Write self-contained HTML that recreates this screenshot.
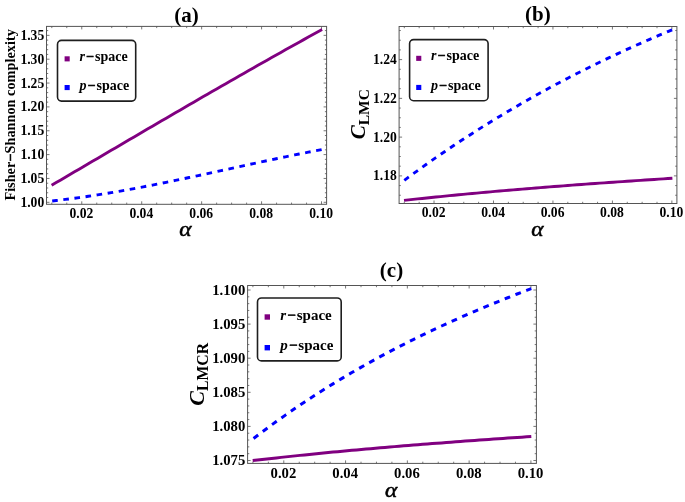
<!DOCTYPE html>
<html><head><meta charset="utf-8"><style>
html,body{margin:0;padding:0;background:#fff;width:685px;height:502px;overflow:hidden}
svg{display:block;filter:blur(0.4px)}
text{font-family:"Liberation Serif",serif}
</style></head><body>
<svg width="685" height="502" viewBox="0 0 685 502">
<rect width="685" height="502" fill="#fff"/>
<rect x="46.5" y="26.4" width="280.10" height="177.90" fill="none" stroke="#555" stroke-width="1"/>
<path d="M81.77,204.3v-3.0M81.77,26.4v3.0M141.71,204.3v-3.0M141.71,26.4v3.0M201.65,204.3v-3.0M201.65,26.4v3.0M261.59,204.3v-3.0M261.59,26.4v3.0M321.53,204.3v-3.0M321.53,26.4v3.0M51.80,204.3v-1.7M51.80,26.4v1.7M66.78,204.3v-1.7M66.78,26.4v1.7M96.75,204.3v-1.7M96.75,26.4v1.7M111.74,204.3v-1.7M111.74,26.4v1.7M126.72,204.3v-1.7M126.72,26.4v1.7M156.69,204.3v-1.7M156.69,26.4v1.7M171.68,204.3v-1.7M171.68,26.4v1.7M186.67,204.3v-1.7M186.67,26.4v1.7M216.63,204.3v-1.7M216.63,26.4v1.7M231.62,204.3v-1.7M231.62,26.4v1.7M246.61,204.3v-1.7M246.61,26.4v1.7M276.57,204.3v-1.7M276.57,26.4v1.7M291.56,204.3v-1.7M291.56,26.4v1.7M306.55,204.3v-1.7M306.55,26.4v1.7M46.5,202.30h3.0M326.6,202.30h-3.0M46.5,178.45h3.0M326.6,178.45h-3.0M46.5,154.60h3.0M326.6,154.60h-3.0M46.5,130.75h3.0M326.6,130.75h-3.0M46.5,106.90h3.0M326.6,106.90h-3.0M46.5,83.05h3.0M326.6,83.05h-3.0M46.5,59.20h3.0M326.6,59.20h-3.0M46.5,35.35h3.0M326.6,35.35h-3.0M46.5,197.53h1.7M326.6,197.53h-1.7M46.5,192.76h1.7M326.6,192.76h-1.7M46.5,187.99h1.7M326.6,187.99h-1.7M46.5,183.22h1.7M326.6,183.22h-1.7M46.5,173.68h1.7M326.6,173.68h-1.7M46.5,168.91h1.7M326.6,168.91h-1.7M46.5,164.14h1.7M326.6,164.14h-1.7M46.5,159.37h1.7M326.6,159.37h-1.7M46.5,149.83h1.7M326.6,149.83h-1.7M46.5,145.06h1.7M326.6,145.06h-1.7M46.5,140.29h1.7M326.6,140.29h-1.7M46.5,135.52h1.7M326.6,135.52h-1.7M46.5,125.98h1.7M326.6,125.98h-1.7M46.5,121.21h1.7M326.6,121.21h-1.7M46.5,116.44h1.7M326.6,116.44h-1.7M46.5,111.67h1.7M326.6,111.67h-1.7M46.5,102.13h1.7M326.6,102.13h-1.7M46.5,97.36h1.7M326.6,97.36h-1.7M46.5,92.59h1.7M326.6,92.59h-1.7M46.5,87.82h1.7M326.6,87.82h-1.7M46.5,78.28h1.7M326.6,78.28h-1.7M46.5,73.51h1.7M326.6,73.51h-1.7M46.5,68.74h1.7M326.6,68.74h-1.7M46.5,63.97h1.7M326.6,63.97h-1.7M46.5,54.43h1.7M326.6,54.43h-1.7M46.5,49.66h1.7M326.6,49.66h-1.7M46.5,44.89h1.7M326.6,44.89h-1.7M46.5,40.12h1.7M326.6,40.12h-1.7M46.5,30.58h1.7M326.6,30.58h-1.7" stroke="#555" stroke-width="0.8" fill="none"/>
<rect x="399.1" y="26.5" width="277.80" height="177.00" fill="none" stroke="#555" stroke-width="1"/>
<path d="M434.03,203.5v-3.0M434.03,26.5v3.0M493.49,203.5v-3.0M493.49,26.5v3.0M552.95,203.5v-3.0M552.95,26.5v3.0M612.41,203.5v-3.0M612.41,26.5v3.0M671.87,203.5v-3.0M671.87,26.5v3.0M404.30,203.5v-1.7M404.30,26.5v1.7M419.17,203.5v-1.7M419.17,26.5v1.7M448.90,203.5v-1.7M448.90,26.5v1.7M463.76,203.5v-1.7M463.76,26.5v1.7M478.62,203.5v-1.7M478.62,26.5v1.7M508.36,203.5v-1.7M508.36,26.5v1.7M523.22,203.5v-1.7M523.22,26.5v1.7M538.09,203.5v-1.7M538.09,26.5v1.7M567.82,203.5v-1.7M567.82,26.5v1.7M582.68,203.5v-1.7M582.68,26.5v1.7M597.55,203.5v-1.7M597.55,26.5v1.7M627.27,203.5v-1.7M627.27,26.5v1.7M642.14,203.5v-1.7M642.14,26.5v1.7M657.00,203.5v-1.7M657.00,26.5v1.7M399.1,175.88h3.0M676.9,175.88h-3.0M399.1,137.12h3.0M676.9,137.12h-3.0M399.1,98.36h3.0M676.9,98.36h-3.0M399.1,59.60h3.0M676.9,59.60h-3.0M399.1,195.26h1.7M676.9,195.26h-1.7M399.1,185.57h1.7M676.9,185.57h-1.7M399.1,166.19h1.7M676.9,166.19h-1.7M399.1,156.50h1.7M676.9,156.50h-1.7M399.1,146.81h1.7M676.9,146.81h-1.7M399.1,127.43h1.7M676.9,127.43h-1.7M399.1,117.74h1.7M676.9,117.74h-1.7M399.1,108.05h1.7M676.9,108.05h-1.7M399.1,88.67h1.7M676.9,88.67h-1.7M399.1,78.98h1.7M676.9,78.98h-1.7M399.1,69.29h1.7M676.9,69.29h-1.7M399.1,49.91h1.7M676.9,49.91h-1.7M399.1,40.22h1.7M676.9,40.22h-1.7M399.1,30.53h1.7M676.9,30.53h-1.7" stroke="#555" stroke-width="0.8" fill="none"/>
<rect x="247.6" y="285.5" width="288.80" height="177.90" fill="none" stroke="#555" stroke-width="1"/>
<path d="M283.79,463.4v-3.0M283.79,285.5v3.0M345.57,463.4v-3.0M345.57,285.5v3.0M407.35,463.4v-3.0M407.35,285.5v3.0M469.13,463.4v-3.0M469.13,285.5v3.0M530.91,463.4v-3.0M530.91,285.5v3.0M252.90,463.4v-1.7M252.90,285.5v1.7M268.35,463.4v-1.7M268.35,285.5v1.7M299.24,463.4v-1.7M299.24,285.5v1.7M314.68,463.4v-1.7M314.68,285.5v1.7M330.12,463.4v-1.7M330.12,285.5v1.7M361.01,463.4v-1.7M361.01,285.5v1.7M376.46,463.4v-1.7M376.46,285.5v1.7M391.90,463.4v-1.7M391.90,285.5v1.7M422.80,463.4v-1.7M422.80,285.5v1.7M438.24,463.4v-1.7M438.24,285.5v1.7M453.69,463.4v-1.7M453.69,285.5v1.7M484.57,463.4v-1.7M484.57,285.5v1.7M500.02,463.4v-1.7M500.02,285.5v1.7M515.47,463.4v-1.7M515.47,285.5v1.7M247.6,460.50h3.0M536.4,460.50h-3.0M247.6,426.40h3.0M536.4,426.40h-3.0M247.6,392.30h3.0M536.4,392.30h-3.0M247.6,358.20h3.0M536.4,358.20h-3.0M247.6,324.10h3.0M536.4,324.10h-3.0M247.6,290.00h3.0M536.4,290.00h-3.0M247.6,453.68h1.7M536.4,453.68h-1.7M247.6,446.86h1.7M536.4,446.86h-1.7M247.6,440.04h1.7M536.4,440.04h-1.7M247.6,433.22h1.7M536.4,433.22h-1.7M247.6,419.58h1.7M536.4,419.58h-1.7M247.6,412.76h1.7M536.4,412.76h-1.7M247.6,405.94h1.7M536.4,405.94h-1.7M247.6,399.12h1.7M536.4,399.12h-1.7M247.6,385.48h1.7M536.4,385.48h-1.7M247.6,378.66h1.7M536.4,378.66h-1.7M247.6,371.84h1.7M536.4,371.84h-1.7M247.6,365.02h1.7M536.4,365.02h-1.7M247.6,351.38h1.7M536.4,351.38h-1.7M247.6,344.56h1.7M536.4,344.56h-1.7M247.6,337.74h1.7M536.4,337.74h-1.7M247.6,330.92h1.7M536.4,330.92h-1.7M247.6,317.28h1.7M536.4,317.28h-1.7M247.6,310.46h1.7M536.4,310.46h-1.7M247.6,303.64h1.7M536.4,303.64h-1.7M247.6,296.82h1.7M536.4,296.82h-1.7" stroke="#555" stroke-width="0.8" fill="none"/>
<path d="M51.60,185.25 L56.18,182.57 L60.77,179.89 L65.35,177.21 L69.94,174.52 L74.52,171.84 L79.11,169.15 L83.69,166.47 L88.28,163.78 L92.86,161.09 L97.45,158.41 L102.03,155.72 L106.62,153.03 L111.20,150.34 L115.79,147.66 L120.37,144.97 L124.96,142.28 L129.54,139.60 L134.13,136.91 L138.71,134.23 L143.29,131.55 L147.88,128.87 L152.46,126.19 L157.05,123.51 L161.63,120.84 L166.22,118.16 L170.80,115.49 L175.39,112.82 L179.97,110.15 L184.56,107.49 L189.14,104.83 L193.73,102.17 L198.31,99.51 L202.90,96.86 L207.48,94.21 L212.07,91.57 L216.65,88.93 L221.24,86.29 L225.82,83.65 L230.41,81.02 L234.99,78.40 L239.57,75.78 L244.16,73.16 L248.74,70.55 L253.33,67.94 L257.91,65.34 L262.50,62.74 L267.08,60.15 L271.67,57.56 L276.25,54.98 L280.84,52.40 L285.42,49.84 L290.01,47.27 L294.59,44.72 L299.18,42.17 L303.76,39.62 L308.35,37.08 L312.93,34.55 L317.52,32.03 L322.10,29.51" stroke="#800080" stroke-width="2.9" fill="none" stroke-linecap="butt" stroke-linejoin="round"/>
<path d="M51.60,201.01 L56.18,200.51 L60.77,199.98 L65.35,199.42 L69.94,198.84 L74.52,198.24 L79.11,197.62 L83.69,196.97 L88.28,196.30 L92.86,195.61 L97.45,194.90 L102.03,194.17 L106.62,193.42 L111.20,192.66 L115.79,191.88 L120.37,191.08 L124.96,190.26 L129.54,189.43 L134.13,188.58 L138.71,187.72 L143.29,186.85 L147.88,185.97 L152.46,185.07 L157.05,184.16 L161.63,183.24 L166.22,182.31 L170.80,181.37 L175.39,180.42 L179.97,179.47 L184.56,178.50 L189.14,177.54 L193.73,176.56 L198.31,175.58 L202.90,174.59 L207.48,173.60 L212.07,172.61 L216.65,171.62 L221.24,170.62 L225.82,169.62 L230.41,168.62 L234.99,167.62 L239.57,166.62 L244.16,165.63 L248.74,164.63 L253.33,163.64 L257.91,162.65 L262.50,161.66 L267.08,160.68 L271.67,159.71 L276.25,158.74 L280.84,157.78 L285.42,156.83 L290.01,155.88 L294.59,154.94 L299.18,154.01 L303.76,153.10 L308.35,152.19 L312.93,151.29 L317.52,150.41 L322.10,149.54" stroke="#0000ff" stroke-width="2.9" fill="none" stroke-dasharray="5.6 5.6" stroke-dashoffset="-0.6" stroke-linecap="butt"/>
<path d="M404.00,200.41 L408.55,199.91 L413.10,199.42 L417.65,198.93 L422.20,198.45 L426.75,197.97 L431.29,197.50 L435.84,197.04 L440.39,196.58 L444.94,196.12 L449.49,195.67 L454.04,195.23 L458.59,194.79 L463.14,194.35 L467.69,193.92 L472.24,193.49 L476.79,193.07 L481.34,192.66 L485.88,192.24 L490.43,191.84 L494.98,191.43 L499.53,191.03 L504.08,190.64 L508.63,190.25 L513.18,189.86 L517.73,189.48 L522.28,189.10 L526.83,188.72 L531.38,188.35 L535.93,187.98 L540.47,187.62 L545.02,187.26 L549.57,186.90 L554.12,186.54 L558.67,186.19 L563.22,185.84 L567.77,185.50 L572.32,185.16 L576.87,184.82 L581.42,184.48 L585.97,184.15 L590.52,183.82 L595.06,183.49 L599.61,183.17 L604.16,182.85 L608.71,182.52 L613.26,182.21 L617.81,181.89 L622.36,181.58 L626.91,181.27 L631.46,180.96 L636.01,180.65 L640.56,180.35 L645.11,180.04 L649.65,179.74 L654.20,179.44 L658.75,179.14 L663.30,178.85 L667.85,178.55 L672.40,178.26" stroke="#800080" stroke-width="2.9" fill="none" stroke-linecap="butt" stroke-linejoin="round"/>
<path d="M404.00,180.54 L408.55,177.18 L413.10,173.85 L417.65,170.55 L422.20,167.28 L426.75,164.05 L431.29,160.85 L435.84,157.68 L440.39,154.54 L444.94,151.43 L449.49,148.35 L454.04,145.30 L458.59,142.28 L463.14,139.29 L467.69,136.34 L472.24,133.41 L476.79,130.50 L481.34,127.63 L485.88,124.79 L490.43,121.97 L494.98,119.19 L499.53,116.43 L504.08,113.70 L508.63,110.99 L513.18,108.31 L517.73,105.66 L522.28,103.04 L526.83,100.44 L531.38,97.87 L535.93,95.32 L540.47,92.80 L545.02,90.31 L549.57,87.84 L554.12,85.39 L558.67,82.97 L563.22,80.57 L567.77,78.20 L572.32,75.85 L576.87,73.53 L581.42,71.22 L585.97,68.95 L590.52,66.69 L595.06,64.46 L599.61,62.25 L604.16,60.06 L608.71,57.89 L613.26,55.74 L617.81,53.62 L622.36,51.52 L626.91,49.43 L631.46,47.37 L636.01,45.33 L640.56,43.31 L645.11,41.31 L649.65,39.33 L654.20,37.36 L658.75,35.42 L663.30,33.49 L667.85,31.59 L672.40,29.70" stroke="#0000ff" stroke-width="2.9" fill="none" stroke-dasharray="5.6 5.6" stroke-dashoffset="-0.4" stroke-linecap="butt"/>
<path d="M252.70,460.57 L257.42,460.02 L262.14,459.48 L266.87,458.94 L271.59,458.42 L276.31,457.89 L281.03,457.38 L285.75,456.87 L290.48,456.37 L295.20,455.87 L299.92,455.38 L304.64,454.89 L309.36,454.41 L314.09,453.94 L318.81,453.47 L323.53,453.00 L328.25,452.55 L332.97,452.09 L337.70,451.64 L342.42,451.20 L347.14,450.76 L351.86,450.33 L356.58,449.90 L361.31,449.48 L366.03,449.06 L370.75,448.64 L375.47,448.23 L380.19,447.82 L384.92,447.42 L389.64,447.02 L394.36,446.63 L399.08,446.24 L403.81,445.85 L408.53,445.47 L413.25,445.09 L417.97,444.71 L422.69,444.34 L427.42,443.97 L432.14,443.60 L436.86,443.24 L441.58,442.88 L446.30,442.52 L451.03,442.17 L455.75,441.82 L460.47,441.47 L465.19,441.12 L469.91,440.78 L474.64,440.44 L479.36,440.10 L484.08,439.76 L488.80,439.42 L493.52,439.09 L498.25,438.76 L502.97,438.43 L507.69,438.10 L512.41,437.78 L517.13,437.46 L521.86,437.13 L526.58,436.81 L531.30,436.49" stroke="#800080" stroke-width="3.0" fill="none" stroke-linecap="butt" stroke-linejoin="round"/>
<path d="M252.70,439.11 L257.42,435.51 L262.14,431.96 L266.87,428.45 L271.59,424.99 L276.31,421.57 L281.03,418.20 L285.75,414.87 L290.48,411.59 L295.20,408.34 L299.92,405.14 L304.64,401.98 L309.36,398.87 L314.09,395.79 L318.81,392.75 L323.53,389.75 L328.25,386.79 L332.97,383.87 L337.70,380.99 L342.42,378.14 L347.14,375.34 L351.86,372.56 L356.58,369.83 L361.31,367.12 L366.03,364.46 L370.75,361.82 L375.47,359.22 L380.19,356.65 L384.92,354.12 L389.64,351.61 L394.36,349.14 L399.08,346.70 L403.81,344.29 L408.53,341.91 L413.25,339.55 L417.97,337.23 L422.69,334.93 L427.42,332.66 L432.14,330.42 L436.86,328.20 L441.58,326.01 L446.30,323.85 L451.03,321.71 L455.75,319.59 L460.47,317.50 L465.19,315.43 L469.91,313.38 L474.64,311.35 L479.36,309.35 L484.08,307.36 L488.80,305.40 L493.52,303.46 L498.25,301.53 L502.97,299.62 L507.69,297.74 L512.41,295.86 L517.13,294.01 L521.86,292.17 L526.58,290.35 L531.30,288.54" stroke="#0000ff" stroke-width="3.0" fill="none" stroke-dasharray="5.8 5.73" stroke-dashoffset="-1.1" stroke-linecap="butt"/>
<g font-family="Liberation Serif" font-weight="bold" fill="#000"><text x="44.20" y="206.79" font-size="13.6" text-anchor="end">1.00</text><text x="44.20" y="182.94" font-size="13.6" text-anchor="end">1.05</text><text x="44.20" y="159.09" font-size="13.6" text-anchor="end">1.10</text><text x="44.20" y="135.24" font-size="13.6" text-anchor="end">1.15</text><text x="44.20" y="111.39" font-size="13.6" text-anchor="end">1.20</text><text x="44.20" y="87.54" font-size="13.6" text-anchor="end">1.25</text><text x="44.20" y="63.69" font-size="13.6" text-anchor="end">1.30</text><text x="44.20" y="39.84" font-size="13.6" text-anchor="end">1.35</text><text x="81.37" y="217.90" font-size="13.6" text-anchor="middle">0.02</text><text x="141.31" y="217.90" font-size="13.6" text-anchor="middle">0.04</text><text x="201.25" y="217.90" font-size="13.6" text-anchor="middle">0.06</text><text x="261.19" y="217.90" font-size="13.6" text-anchor="middle">0.08</text><text x="321.13" y="217.90" font-size="13.6" text-anchor="middle">0.10</text><text x="396.80" y="180.37" font-size="13.6" text-anchor="end">1.18</text><text x="396.80" y="141.61" font-size="13.6" text-anchor="end">1.20</text><text x="396.80" y="102.85" font-size="13.6" text-anchor="end">1.22</text><text x="396.80" y="64.09" font-size="13.6" text-anchor="end">1.24</text><text x="433.63" y="216.90" font-size="13.6" text-anchor="middle">0.02</text><text x="493.09" y="216.90" font-size="13.6" text-anchor="middle">0.04</text><text x="552.55" y="216.90" font-size="13.6" text-anchor="middle">0.06</text><text x="612.01" y="216.90" font-size="13.6" text-anchor="middle">0.08</text><text x="671.47" y="216.90" font-size="13.6" text-anchor="middle">0.10</text><text x="245.30" y="465.35" font-size="14.7" text-anchor="end">1.075</text><text x="245.30" y="431.25" font-size="14.7" text-anchor="end">1.080</text><text x="245.30" y="397.15" font-size="14.7" text-anchor="end">1.085</text><text x="245.30" y="363.05" font-size="14.7" text-anchor="end">1.090</text><text x="245.30" y="328.95" font-size="14.7" text-anchor="end">1.095</text><text x="245.30" y="294.85" font-size="14.7" text-anchor="end">1.100</text><text x="283.39" y="478.20" font-size="14.7" text-anchor="middle">0.02</text><text x="345.17" y="478.20" font-size="14.7" text-anchor="middle">0.04</text><text x="406.95" y="478.20" font-size="14.7" text-anchor="middle">0.06</text><text x="468.73" y="478.20" font-size="14.7" text-anchor="middle">0.08</text><text x="530.51" y="478.20" font-size="14.7" text-anchor="middle">0.10</text></g>
<g font-family="Liberation Serif" font-weight="bold" font-size="21" text-anchor="middle"><text x="186.5" y="21.6">(a)</text><text x="537.8" y="20.8">(b)</text><text x="391.5" y="276.5">(c)</text></g>
<g font-family="Liberation Serif" font-style="italic" font-size="22.5" text-anchor="middle" stroke="#000" stroke-width="0.55"><text transform="translate(185.4,236.2) scale(1.04,0.92)">&#945;</text><text transform="translate(537.4,236.0) scale(1.04,0.92)">&#945;</text><text transform="translate(391.2,497.0) scale(1.04,0.92)">&#945;</text></g>
<text transform="translate(15.3,114.9) rotate(-90)" font-family="Liberation Serif" font-weight="bold" font-size="14.3" text-anchor="middle">Fisher<tspan stroke="#000" stroke-width="0.5">&#8722;</tspan>Shannon complexity</text>
<text transform="translate(364.8,114.2) rotate(-90)" font-family="Liberation Serif" text-anchor="middle"><tspan font-style="italic" font-weight="bold" font-size="21">C</tspan><tspan font-weight="bold" font-size="15.5" dy="4.4">LMC</tspan></text>
<text transform="translate(203.8,374.3) rotate(-90)" font-family="Liberation Serif" text-anchor="middle"><tspan font-style="italic" font-weight="bold" font-size="22">C</tspan><tspan font-weight="bold" font-size="15.8" dy="4.3">LMCR</tspan></text>
<rect x="57.50" y="40.40" width="78.20" height="60.70" rx="4" ry="4" fill="#fff" stroke="#1e1e1e" stroke-width="1.6"/><rect x="64.6" y="56.3" width="5.1" height="5.1" fill="#800080"/><rect x="64.6" y="85.0" width="5.1" height="5.1" fill="#0000ff"/><text x="79.5" y="60.6" font-family="Liberation Serif" font-weight="bold" font-size="14"><tspan font-style="italic">r</tspan><tspan dx="1.2" stroke="#000" stroke-width="0.5">&#8722;</tspan><tspan dx="0.8">space</tspan></text><text x="79.5" y="89.7" font-family="Liberation Serif" font-weight="bold" font-size="14"><tspan font-style="italic">p</tspan><tspan dx="1.2" stroke="#000" stroke-width="0.5">&#8722;</tspan><tspan dx="0.8">space</tspan></text>
<rect x="409.60" y="39.60" width="78.50" height="61.10" rx="4" ry="4" fill="#fff" stroke="#1e1e1e" stroke-width="1.6"/><rect x="416.2" y="55.8" width="5.1" height="5.1" fill="#800080"/><rect x="416.2" y="84.9" width="5.1" height="5.1" fill="#0000ff"/><text x="431.0" y="60.3" font-family="Liberation Serif" font-weight="bold" font-size="14"><tspan font-style="italic">r</tspan><tspan dx="1.2" stroke="#000" stroke-width="0.5">&#8722;</tspan><tspan dx="0.8">space</tspan></text><text x="431.0" y="89.7" font-family="Liberation Serif" font-weight="bold" font-size="14"><tspan font-style="italic">p</tspan><tspan dx="1.2" stroke="#000" stroke-width="0.5">&#8722;</tspan><tspan dx="0.8">space</tspan></text>
<rect x="257.50" y="298.00" width="83.70" height="62.90" rx="4" ry="4" fill="#fff" stroke="#1e1e1e" stroke-width="1.6"/><rect x="264.6" y="314.3" width="5.4" height="5.4" fill="#800080"/><rect x="264.6" y="345.0" width="5.4" height="5.4" fill="#0000ff"/><text x="280.3" y="319.5" font-family="Liberation Serif" font-weight="bold" font-size="15"><tspan font-style="italic">r</tspan><tspan dx="1.2" stroke="#000" stroke-width="0.5">&#8722;</tspan><tspan dx="0.8">space</tspan></text><text x="280.3" y="349.7" font-family="Liberation Serif" font-weight="bold" font-size="15"><tspan font-style="italic">p</tspan><tspan dx="1.2" stroke="#000" stroke-width="0.5">&#8722;</tspan><tspan dx="0.8">space</tspan></text>
</svg>
</body></html>
